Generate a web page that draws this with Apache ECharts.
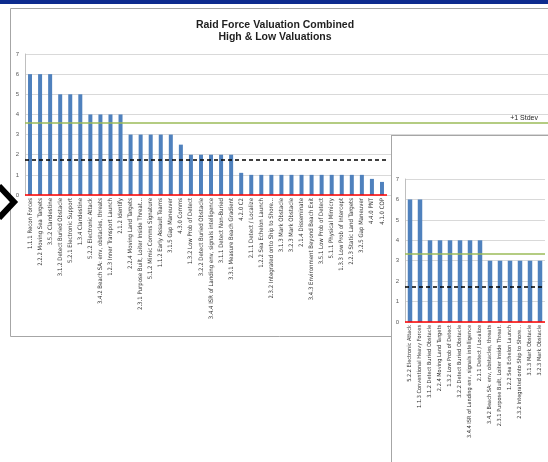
<!DOCTYPE html>
<html>
<head>
<meta charset="utf-8">
<script src="https://cdn.jsdelivr.net/npm/echarts@6/dist/echarts.min.js"></script>
<style>
html,body{margin:0;padding:0;width:548px;height:462px;overflow:hidden;background:#fff;}
#main{position:absolute;left:0;top:0;width:548px;height:462px;}
#inset{position:absolute;left:391px;top:135px;width:180px;height:340px;background:#fff;border:1px solid #a6a6a6;}
</style>
</head>
<body>
<div id="main"></div>
<div id="inset"></div>
<script>
// ---- Data ----
const mainCategories = [
  "1.1.1 Recon Forces","2.2.2 Moving Sea Targets","3.5.2 Clandestine","3.1.2 Detect Buried Obstacle",
  "5.2.1 Electronic Support","1.3.4 Clandestine","5.2.2 Electronic Attack","3.4.2 Beach SA: env, obstacles, threats",
  "1.2.3 Inner Transport Launch","2.1.2 Identify","2.2.4 Moving Land Targets","2.3.1 Purpose Built, Loiter Inside Threat...",
  "5.1.2 Mimic Comms Signature","1.1.2 Early Assault Teams","3.1.5 Gap Maneuver","4.3.0 Comms",
  "1.3.2 Low Prob of Detect","3.2.2 Detect Buried Obstacle","3.4.4 ISR of Landing env, signals intelligence","3.1.1 Detect Non-Buried",
  "3.3.1 Measure Beach Gradient","4.2.0 C2","2.1.1 Detect / Localize","1.2.2 Sea Echelon Launch",
  "2.3.2 Integrated onto Ship to Shore...","3.1.3 Mark Obstacle","3.2.3 Mark Obstacle","2.1.4 Disseminate",
  "3.4.3 Environment Beyond Beach Exit","3.5.1 Low Prob of Detect","5.1.1 Physical Mimicry","1.3.3 Low Prob of Intercept",
  "2.2.3 Static Land Targets","3.2.5 Gap Maneuver","4.4.0 PNT","4.1.0 COP"
];
const mainValues = [6,6,6,5,5,5,4,4,4,4,3,3,3,3,3,2.5,2,2,2,2,2,1.1,1,1,1,1,1,1,1,1,1,1,1,1,0.8,0.65];
const mainPlusStdev = 3.58;
const mainMean = 1.74;

const insetCategories = [
  "5.2.2 Electronic Attack","1.1.3 Conventional Heavy Forces","3.1.2 Detect Buried Obstacle","2.2.4 Moving Land Targets",
  "1.3.2 Low Prob of Detect","3.2.2 Detect Buried Obstacle","3.4.4 ISR of Landing env, signals intelligence","2.1.1 Detect / Localize",
  "3.4.2 Beach SA: env, obstacles, threats","2.3.1 Purpose Built, Loiter Inside Threat.","1.2.2 Sea Echelon Launch","2.3.2 Integrated onto Ship to Shore...",
  "3.1.3 Mark Obstacle","3.2.3 Mark Obstacle"
];
const insetValues = [6,6,4,4,4,4,4,4,3,3,3,3,3,3];
const insetPlusStdev = 3.33;
const insetMean = 1.71;

const yMin = 0, yMax = 7, yInterval = 1;

// ---- Styles ----
const BAR = '#4f81bd', GREEN = '#9bbb59', GRID = '#d9d9d9';
const labelFont = '"Liberation Sans Narrow","DejaVu Sans Condensed","Liberation Sans",sans-serif';

function yAxisCfg(grid, showLabels) {
  return {
    gridIndex: grid, type: 'value', min: yMin, max: yMax, interval: yInterval,
    axisLine: { show: showLabels, lineStyle: { color: '#bfbfbf', width: 1 } },
    axisTick: { show: false },
    axisLabel: { show: showLabels, fontSize: 6, color: '#595959', margin: 6, fontFamily: 'Liberation Sans' },
    splitLine: { show: true, lineStyle: { color: GRID, width: 1 } }
  };
}
function refLines(plus, mean) {
  return {
    symbol: 'none', silent: true, animation: false,
    label: { show: false },
    data: [
      { yAxis: plus, lineStyle: { color: GREEN, width: 1.5, type: 'solid' } },
      { yAxis: mean, lineStyle: { color: '#000', width: 1.5, type: [4, 3] } },
      { yAxis: 0, lineStyle: { color: '#ff0000', width: 1.5, type: 'solid' } }
    ]
  };
}

const main = echarts.init(document.getElementById('main'), null, { renderer: 'canvas' });
main.setOption({
  animation: false,
  backgroundColor: '#fff',
  title: {
    text: 'Raid Force Valuation Combined\nHigh & Low Valuations',
    left: 270, top: 14, textAlign: 'center',
    textStyle: { fontSize: 10.5, fontWeight: 'bold', color: '#1f1f1f', lineHeight: 12, fontFamily: 'Liberation Sans' }
  },
  graphic: [
    { type: 'rect', shape: { x: 0, y: 0, width: 548, height: 4 }, style: { fill: '#0d2b8e' }, silent: true },
    { type: 'rect', shape: { x: 10.5, y: 8.5, width: 600, height: 328 }, style: { fill: null, stroke: '#a6a6a6', lineWidth: 1 }, silent: true },
    { type: 'polyline', shape: { points: [[-1, 186], [14, 202], [-1, 218]] }, style: { stroke: '#000', lineWidth: 6, fill: null }, silent: true, z: 10 }
  ],
  grid: [
    { left: 25, top: 54, width: 362, height: 141 },
    { left: 387, top: 54, width: 161, height: 141 }
  ],
  xAxis: [
    {
      gridIndex: 0, type: 'category', data: mainCategories,
      axisLine: { show: false }, axisTick: { show: false },
      axisLabel: { rotate: 90, interval: 0, fontSize: 6, color: '#333', margin: 3, fontFamily: labelFont }
    },
    { gridIndex: 1, type: 'value', min: 0, max: 1, show: false }
  ],
  yAxis: [ yAxisCfg(0, true), yAxisCfg(1, false) ],
  series: [
    {
      type: 'bar', xAxisIndex: 0, yAxisIndex: 0, data: mainValues, barWidth: 4,
      itemStyle: { color: BAR }, markLine: refLines(mainPlusStdev, mainMean)
    },
    {
      type: 'line', xAxisIndex: 1, yAxisIndex: 1, data: [[0, mainPlusStdev], [1, mainPlusStdev]],
      symbol: 'none', lineStyle: { opacity: 0 },
      markLine: {
        symbol: 'none', silent: true,
        lineStyle: { color: GREEN, width: 1.5, type: 'solid' },
        label: { show: true, position: 'insideEndTop', formatter: '+1 Stdev', fontSize: 7, color: '#262626', distance: [10, 1], fontFamily: 'Liberation Sans' },
        data: [{ yAxis: mainPlusStdev }]
      }
    }
  ]
});

const inset = echarts.init(document.getElementById('inset'), null, { renderer: 'canvas' });
inset.setOption({
  animation: false,
  backgroundColor: '#fff',
  grid: { left: 13, top: 43, width: 140, height: 143 },
  xAxis: {
    type: 'category', data: insetCategories,
    axisLine: { show: false }, axisTick: { show: false },
    axisLabel: { rotate: 90, interval: 0, fontSize: 5.6, color: '#333', margin: 3, fontFamily: labelFont }
  },
  yAxis: yAxisCfg(0, true),
  series: [{
    type: 'bar', data: insetValues, barWidth: 4.5,
    itemStyle: { color: BAR }, markLine: refLines(insetPlusStdev, insetMean)
  }]
});
</script>
</body>
</html>
